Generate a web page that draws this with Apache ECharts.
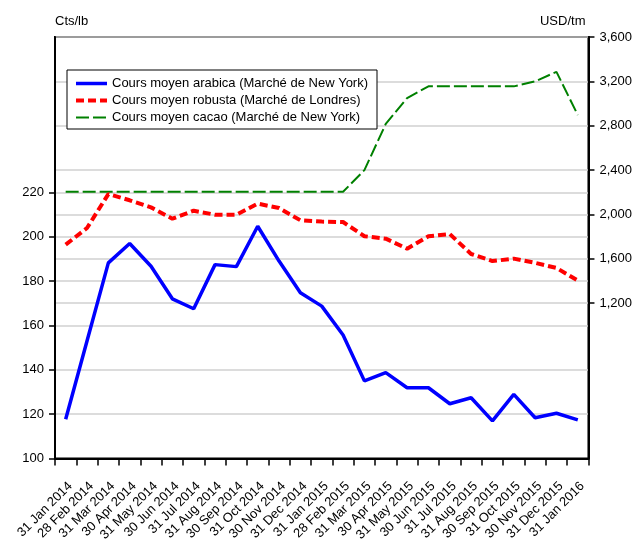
<!DOCTYPE html>
<html>
<head>
<meta charset="utf-8">
<script src="https://cdn.jsdelivr.net/npm/echarts@6/dist/echarts.min.js"></script>
<style>
  html, body { margin: 0; padding: 0; background: #fff; }
  #chart { width: 635px; height: 544px; }
</style>
</head>
<body>
<div id="chart"></div>
<script>
const categories = [
  '31 Jan 2014', '28 Feb 2014', '31 Mar 2014', '30 Apr 2014', '31 May 2014',
  '30 Jun 2014', '31 Jul 2014', '31 Aug 2014', '30 Sep 2014', '31 Oct 2014',
  '30 Nov 2014', '31 Dec 2014', '31 Jan 2015', '28 Feb 2015', '31 Mar 2015',
  '30 Apr 2015', '31 May 2015', '30 Jun 2015', '31 Jul 2015', '31 Aug 2015',
  '30 Sep 2015', '31 Oct 2015', '30 Nov 2015', '31 Dec 2015', '31 Jan 2016'
];

// Cts/lb (left axis)
const arabica = [117.7, 153, 188.2, 196.9, 186.7, 172, 167.5, 187.4, 186.5, 204.7,
  189, 174.7, 168.7, 155.7, 135, 138.7, 131.9, 131.9, 124.7, 127.4,
  117, 128.9, 118.4, 120.4, 117.4];
const robusta = [196.4, 203.9, 219.2, 216.4, 213.2, 208.1, 211.7, 209.9, 209.9, 214.9,
  212.9, 207.4, 206.8, 206.6, 200.2, 199.1, 194.6, 200.2, 201.2, 192.2,
  189, 190.1, 188.2, 185.9, 180.2];

// USD/tm (right axis)
const cacao = [2205, 2205, 2205, 2205, 2205, 2205, 2205, 2205, 2205, 2205,
  2205, 2205, 2205, 2205, 2400, 2816, 3050, 3155, 3155, 3155,
  3155, 3155, 3200, 3286, 2897];

const leftTicks = [100, 120, 140, 160, 180, 200, 220];
const rightTicks = [1200, 1600, 2000, 2400, 2800, 3200, 3600];

const names = [
  'Cours moyen arabica (Marché de New York)',
  'Cours moyen robusta (Marché de Londres)',
  'Cours moyen cacao (Marché de New York)'
];

const font = 'Liberation Sans, Arial, sans-serif';
const blueStyle = { color: '#0000ff', width: 3.5, type: 'solid' };
const redStyle = { color: '#ff0000', width: 4, type: [8, 4] };
const greenStyle = { color: '#008000', width: 2, type: [13, 4] };
const noSymbol = { opacity: 0 };

const chart = echarts.init(document.getElementById('chart'));

const yAxisCommon = {
  type: 'value',
  axisLine: { show: true, onZero: false, lineStyle: { color: '#000', width: 2 } },
  axisTick: { show: true, inside: false, length: 6, lineStyle: { color: '#000', width: 1.5 } },
  axisLabel: { color: '#000', fontSize: 13, fontFamily: font, margin: 11 },
  splitLine: { show: true, lineStyle: { color: '#d0d0d0', width: 1.5 } },
  nameLocation: 'end',
  nameGap: 9,
};

const option = {
  animation: false,
  backgroundColor: '#fff',
  grid: {
    left: 55, right: 46, top: 37, bottom: 83,
    show: true, borderColor: '#000', borderWidth: 2, backgroundColor: 'transparent'
  },
  legend: {
    orient: 'vertical',
    left: 67,
    top: 70,
    backgroundColor: '#fff',
    borderColor: '#000',
    borderWidth: 1,
    borderRadius: 0,
    padding: [7, 9, 5, 7],
    itemGap: 4,
    itemWidth: 31,
    itemHeight: 14,
    textStyle: { color: '#000', fontSize: 13, fontFamily: font },
    data: [
      { name: names[0], lineStyle: blueStyle, itemStyle: noSymbol },
      { name: names[1], lineStyle: redStyle, itemStyle: noSymbol },
      { name: names[2], lineStyle: greenStyle, itemStyle: noSymbol }
    ]
  },
  xAxis: {
    type: 'category',
    data: categories,
    boundaryGap: true,
    axisLine: { onZero: false, lineStyle: { color: '#000', width: 2 } },
    axisTick: { show: true, length: 7, interval: 0, lineStyle: { color: '#000', width: 1.5 } },
    axisLabel: {
      interval: 0, rotate: 45, color: '#000', fontSize: 13, fontFamily: font,
      margin: 21, verticalAlign: 'top'
    },
    splitLine: { show: false }
  },
  yAxis: [
    Object.assign({}, yAxisCommon, {
      min: 100,
      max: 290,
      position: 'left',
      name: 'Cts/lb',
      nameTextStyle: { color: '#000', fontSize: 13, fontFamily: font, align: 'left' },
      axisTick: Object.assign({}, yAxisCommon.axisTick, { customValues: leftTicks }),
      axisLabel: Object.assign({}, yAxisCommon.axisLabel, { customValues: leftTicks })
    }),
    Object.assign({}, yAxisCommon, {
      min: -200,
      max: 3600,
      position: 'right',
      name: 'USD/tm',
      nameTextStyle: { color: '#000', fontSize: 13, fontFamily: font, align: 'right', padding: [0, 3, 0, 0] },
      axisTick: Object.assign({}, yAxisCommon.axisTick, { customValues: rightTicks }),
      axisLabel: Object.assign({}, yAxisCommon.axisLabel, {
        customValues: rightTicks,
        formatter: val => val.toLocaleString('en-US')
      })
    })
  ],
  series: [
    {
      name: names[0], type: 'line', yAxisIndex: 0, data: arabica,
      symbol: 'none', lineStyle: blueStyle, color: '#0000ff', z: 4
    },
    {
      name: names[1], type: 'line', yAxisIndex: 0, data: robusta,
      symbol: 'none', lineStyle: redStyle, color: '#ff0000', z: 3
    },
    {
      name: names[2], type: 'line', yAxisIndex: 1, data: cacao,
      symbol: 'none', lineStyle: greenStyle, color: '#008000', z: 2
    }
  ]
};

chart.setOption(option);
</script>
</body>
</html>
